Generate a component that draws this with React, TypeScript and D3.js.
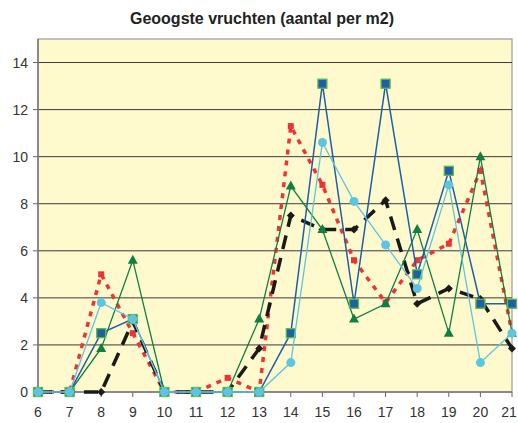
import React from "react";
import * as d3 from "d3";

const categories = [6, 7, 8, 9, 10, 11, 12, 13, 14, 15, 16, 17, 18, 19, 20, 21];
const redSeries = [0, 0, 5.0, 2.5, 0, 0, 0.6, 0, 11.3, 8.8, 5.6, 3.8, 5.6, 6.3, 9.4, 2.5];
const blackSeries = [0, 0, 0, 3.0, 0, 0, 0, 1.85, 7.5, 6.9, 6.9, 8.15, 3.75, 4.4, 3.95, 1.85];
const greenSeries = [0, 0, 1.85, 5.6, 0, 0, 0, 3.1, 8.75, 6.9, 3.1, 3.75, 6.9, 2.5, 10.0, 2.5];
const blueSeries = [0, 0, 2.5, 3.1, 0, 0, 0, 0, 2.5, 13.1, 3.75, 13.1, 5.0, 9.4, 3.75, 3.75];
const cyanSeries = [0, 0, 3.8, 3.1, 0, 0, 0, 0, 1.25, 10.6, 8.1, 6.25, 4.4, 8.8, 1.25, 2.5];
const yTicks = [0, 2, 4, 6, 8, 10, 12, 14];
const title = "Geoogste vruchten (aantal per m2)";

const W = 518, H = 423;
const L = 38, R = 512, T = 39, B = 392;

export default function App() {
  const x = d3.scaleLinear().domain([6, 21]).range([L, R]);
  const y = d3.scaleLinear().domain([0, 15]).range([B, T]);
  const line = (vals: number[]) =>
    d3.line<number>().x((_, i) => x(categories[i])).y((v) => y(v))(vals) || "";
  const font = "Liberation Sans, Arial, sans-serif";

  return (
    <svg width={W} height={H} style={{ position: "absolute", left: 0, top: 0, background: "#fff" }}>
      <rect x={L} y={T} width={R - L} height={B - T} fill="#FFF9CE" stroke="#999" strokeWidth={1.2} />
      {yTicks.filter((t) => t > 0).map((t) => (
        <line key={t} x1={L} x2={R} y1={y(t)} y2={y(t)} stroke="#3a3a3a" strokeWidth={1} />
      ))}
      {yTicks.map((t) => (
        <g key={"yt" + t}>
          <line x1={L - 5} x2={L} y1={y(t)} y2={y(t)} stroke="#666" />
          <text x={L - 10} y={y(t) + 5} textAnchor="end" fontFamily={font} fontSize={14} fill="#333">{t}</text>
        </g>
      ))}
      {categories.map((c) => (
        <g key={"xt" + c}>
          <line x1={x(c)} x2={x(c)} y1={B} y2={B + 5} stroke="#666" />
          <text x={Math.min(x(c), W - 9)} y={B + 25} textAnchor="middle" fontFamily={font} fontSize={14} fill="#333">{c}</text>
        </g>
      ))}
      <line x1={L} x2={L} y1={T} y2={B} stroke="#777" strokeWidth={1.5} />
      <line x1={L} x2={R} y1={B} y2={B} stroke="#777" strokeWidth={1.5} />

      {/* red dotted */}
      <path d={line(redSeries)} fill="none" stroke="#EE3333" strokeWidth={3.5} strokeDasharray="5 6" />
      {redSeries.map((v, i) => (
        <rect key={"r" + i} x={x(categories[i]) - 3} y={y(v) - 3} width={6} height={6} fill="#EE3333" />
      ))}
      {/* black dashed */}
      <path d={line(blackSeries)} fill="none" stroke="#1a1a1a" strokeWidth={3.5} strokeDasharray="14 9" />
      {blackSeries.map((v, i) => {
        const cx = x(categories[i]), cy = y(v);
        return <path key={"b" + i} d={`M${cx},${cy - 4}L${cx + 4},${cy}L${cx},${cy + 4}L${cx - 4},${cy}Z`} fill="#1a1a1a" />;
      })}
      {/* green triangles */}
      <path d={line(greenSeries)} fill="none" stroke="#0E8040" strokeWidth={1.3} />
      {greenSeries.map((v, i) => {
        const cx = x(categories[i]), cy = y(v);
        return <path key={"g" + i} d={`M${cx},${cy - 5.5}L${cx + 5},${cy + 3.5}L${cx - 5},${cy + 3.5}Z`} fill="#0E8040" />;
      })}
      {/* blue squares */}
      <path d={line(blueSeries)} fill="none" stroke="#1F5FA8" strokeWidth={1.5} />
      {blueSeries.map((v, i) => (
        <rect key={"s" + i} x={x(categories[i]) - 4.5} y={y(v) - 4.5} width={9} height={9} fill="#1F5FA8" stroke="#5DBB46" strokeWidth={1.3} />
      ))}
      {/* cyan circles */}
      <path d={line(cyanSeries)} fill="none" stroke="#5CC6E0" strokeWidth={1.3} />
      {cyanSeries.map((v, i) => (
        <circle key={"c" + i} cx={x(categories[i])} cy={y(v)} r={4.5} fill="#5CC6E0" />
      ))}

      <text x={262} y={24} textAnchor="middle" fontFamily={font} fontSize={16} fontWeight="bold" fill="#222">{title}</text>
    </svg>
  );
}
